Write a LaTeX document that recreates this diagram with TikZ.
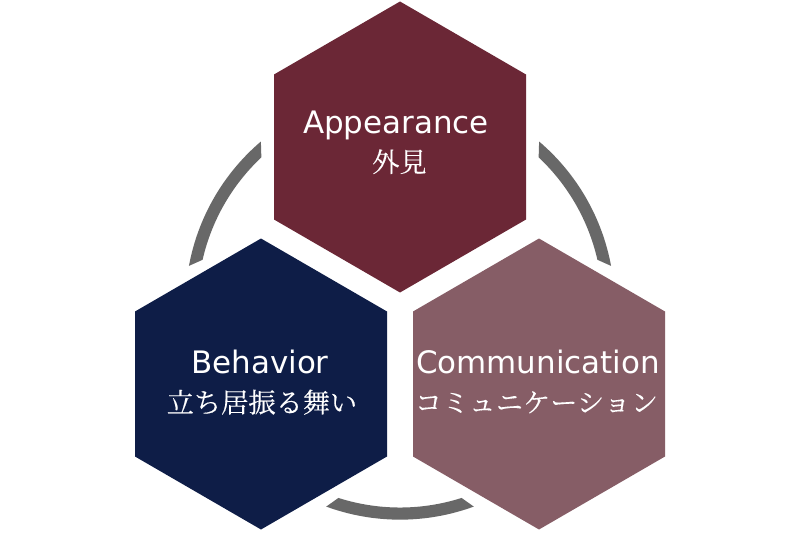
\documentclass[tikz,border=0pt]{standalone}
\usepackage{fontspec}
\usetikzlibrary{calc}
\setmainfont{DejaVu Sans}
\newfontfamily\jp[FakeBold=0.3]{Noto Serif CJK JP}
\tikzset{
  x=0.75pt,y=0.75pt,
  hexa/.style={draw=none},
  ring/.style={fill=ringgray,draw=none},
  en/.style={text=white,inner sep=0pt,font=\fontsize{23.2}{26}\selectfont,anchor=base},
  ja/.style={text=white,inner sep=0pt,font=\jp\fontsize{20.4}{22}\selectfont,anchor=base},
}
\definecolor{ringgray}{HTML}{686868}
\definecolor{cappear}{HTML}{6B2736}
\definecolor{cbehav}{HTML}{0E1D47}
\definecolor{ccomm}{HTML}{865D66}
\newcommand{\hexshape}[3]{\fill[#3,hexa] (#1,#2+145.5) -- (#1+126,#2+72.5) -- (#1+126,#2-72.5) -- (#1,#2-145.5) -- (#1-126,#2-72.5) -- (#1-126,#2+72.5) -- cycle;}
\begin{document}
\begin{tikzpicture}
\useasboundingbox (0,0) rectangle (800,533);
\fill[white] (0,0) rectangle (800,533);
\coordinate (ctr) at (400,228);
% ring segments
\fill[ring] ($(ctr)+(130.4:161pt)$) arc[start angle=130.4,end angle=169.5,radius=161pt] -- ($(ctr)+(167.1:151.9pt)$) arc[start angle=167.1,end angle=133.2,radius=151.9pt] -- cycle;
\fill[ring] ($(ctr)+(49.6:161pt)$) arc[start angle=49.6,end angle=10.5,radius=161pt] -- ($(ctr)+(12.9:151.9pt)$) arc[start angle=12.9,end angle=46.8,radius=151.9pt] -- cycle;
\fill[ring] ($(ctr)+(249.9:161pt)$) arc[start angle=249.9,end angle=290.1,radius=161pt] -- ($(ctr)+(287.7:151.9pt)$) arc[start angle=287.7,end angle=252.3,radius=151.9pt] -- cycle;
% hexagons
\hexshape{400}{386}{cappear}
\hexshape{261}{149}{cbehav}
\hexshape{539}{149}{ccomm}
% labels
\node[en] (a1) at (396,399) {Appearance};
\node[ja] (a2) at (399.5,361) {外見};
\node[en] (b1) at (260,160) {Behavior};
\node[ja] (b2) at (262,120.5) {立ち居振る舞い};
\node[en] (c1) at (538,159.5) {Communication};
\node[ja] (c2) at (536.5,120.5) {コミュニケーション};
\end{tikzpicture}
\end{document}
